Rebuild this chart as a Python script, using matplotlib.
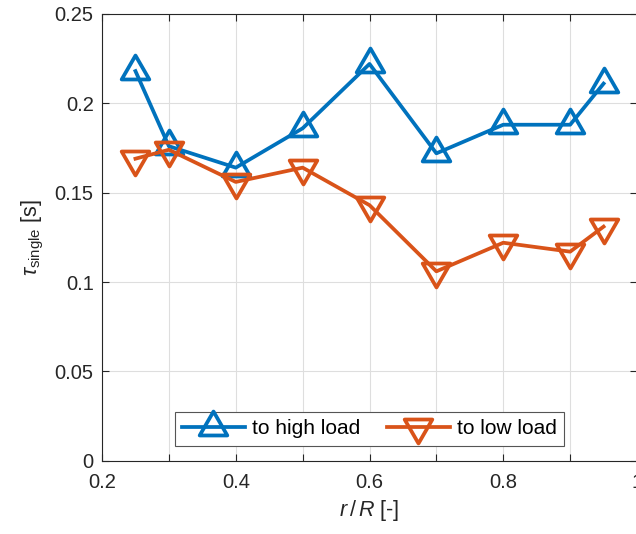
import matplotlib
matplotlib.use("Agg")
import matplotlib.pyplot as plt
from matplotlib.path import Path
from matplotlib.ticker import FixedLocator, FuncFormatter

# data
r_R = [0.25, 0.3, 0.4, 0.5, 0.6, 0.7, 0.8, 0.9, 0.95]
tau_high = [0.218, 0.176, 0.164, 0.186, 0.222, 0.172, 0.188, 0.188, 0.211]
tau_low = [0.169, 0.174, 0.156, 0.164, 0.143, 0.106, 0.122, 0.117, 0.131]
x_ticks = [0.2, 0.3, 0.4, 0.5, 0.6, 0.7, 0.8, 0.9, 1.0]
y_ticks = [0, 0.05, 0.1, 0.15, 0.2, 0.25]

BLUE = "#0072BD"
ORANGE = "#D95319"
AXCOL = "#262626"

# MATLAB-style triangles, centred on their centroid
tri_up = Path([(0, 1), (-0.866, -0.5), (0.866, -0.5), (0, 1)], closed=True)
tri_down = Path([(0, -1), (-0.866, 0.5), (0.866, 0.5), (0, -1)], closed=True)

plt.rcParams.update({
    "font.family": ["Liberation Sans", "DejaVu Sans"],
    "font.size": 14.5,
    "mathtext.fontset": "custom",
    "mathtext.rm": "Liberation Sans",
    "mathtext.it": "Liberation Sans:italic",
    "mathtext.bf": "Liberation Sans:bold",
})

fig = plt.figure(figsize=(6.36, 5.34), dpi=100)
ax = fig.add_axes([0.1604, 0.137, 0.8412, 0.837])

ax.plot(r_R, tau_high, color=BLUE, linewidth=2.7, marker=tri_up, markersize=23,
        markerfacecolor="none", markeredgewidth=2.7, label="to high load", zorder=3)
ax.plot(r_R, tau_low, color=ORANGE, linewidth=2.7, marker=tri_down, markersize=23,
        markerfacecolor="none", markeredgewidth=2.7, label="to low load", zorder=3)

ax.set_xlim(0.2, 1.0)
ax.set_ylim(0, 0.25)
ax.xaxis.set_major_locator(FixedLocator(x_ticks))
ax.xaxis.set_major_formatter(FuncFormatter(
    lambda v, p: ("%g" % round(v, 1)) if round(v * 10) % 2 == 0 else ""))
ax.yaxis.set_major_locator(FixedLocator(y_ticks))
ax.yaxis.set_major_formatter(FuncFormatter(lambda v, p: "%g" % round(v, 2)))

ax.grid(True, color="#dedede", linewidth=0.8)
ax.set_axisbelow(True)
ax.tick_params(direction="in", length=5, width=0.8, colors=AXCOL,
               top=True, right=True, labelsize=14.5)
ax.tick_params(axis="x", pad=9)
ax.tick_params(axis="y", pad=6)
for s in ax.spines.values():
    s.set_color(AXCOL)
    s.set_linewidth(0.8)

ax.set_xlabel(r"$r\,/\,R$ [-]", color=AXCOL, fontsize=15.5, labelpad=4)
ax.set_ylabel(r"$\tau_{\mathrm{single}}$ [s]", color=AXCOL, fontsize=15.5, labelpad=6)

leg = ax.legend(loc="lower center", bbox_to_anchor=(0.5, 0.034), borderaxespad=0,
                ncol=2, fancybox=False, framealpha=1, edgecolor="#555555",
                fontsize=15, handlelength=3.0, columnspacing=1.3,
                handletextpad=0.35, borderpad=0.35)
leg.get_frame().set_linewidth(0.8)

fig.savefig("out.png", dpi=100)
